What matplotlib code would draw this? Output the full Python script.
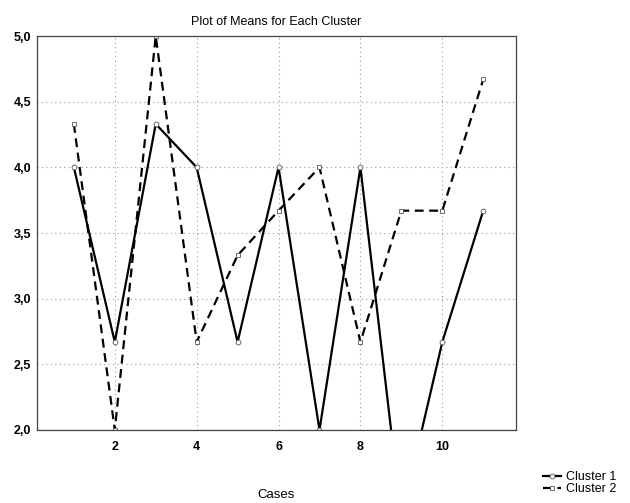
import numpy as np
import matplotlib
matplotlib.use("Agg")
import matplotlib.pyplot as plt
from matplotlib.ticker import FuncFormatter

plt.rcParams['font.family'] = ['Liberation Sans', 'DejaVu Sans']

# Means per case
cases = [1, 2, 3, 4, 5, 6, 7, 8, 9, 10, 11]
cluster1 = [4.0, 2.67, 4.33, 4.0, 2.67, 4.0, 2.0, 4.0, 1.33, 2.67, 3.67]
cluster2 = [4.33, 2.0, 5.0, 2.67, 3.33, 3.67, 4.0, 2.67, 3.67, 3.67, 4.67]

x_ticks = [2, 4, 6, 8, 10]
y_ticks = [2.0, 2.5, 3.0, 3.5, 4.0, 4.5, 5.0]

fig = plt.figure(figsize=(6.30, 5.03), dpi=100)
ax = fig.add_axes([37 / 630, 1 - 430 / 503, (516 - 37) / 630, (430 - 36) / 503])

ax.plot(cases, cluster1, color='black', lw=1.6, ls='-',
        marker='o', ms=3.5, mfc='white', mec='#555555', mew=0.6, label='Cluster 1')
ax.plot(cases, cluster2, color='black', lw=1.6, ls=(0, (4, 2.5)),
        marker='s', ms=3.2, mfc='white', mec='#555555', mew=0.6, label='Cluster 2')

ax.set_xlim(0.1, 11.8)
ax.set_ylim(2.0, 5.0)
ax.set_xticks(x_ticks)
ax.set_yticks(y_ticks)
ax.yaxis.set_major_formatter(FuncFormatter(lambda v, p: f"{v:.1f}".replace('.', ',')))
ax.tick_params(axis='y', length=0, labelsize=9, pad=4)
ax.tick_params(axis='x', length=0, labelsize=9, pad=8)
for lab in ax.get_xticklabels() + ax.get_yticklabels():
    lab.set_fontweight('bold')

ax.grid(True, color='#999999', ls=(0, (1, 3)), lw=0.8)
for s in ax.spines.values():
    s.set_color('#444444')
    s.set_linewidth(0.9)

ax.set_title('Plot of Means for Each Cluster', fontsize=9, pad=8)
ax.set_xlabel('Cases', fontsize=9.5, labelpad=26)

fig.legend(loc='lower right', bbox_to_anchor=(0.99, 0.0), frameon=False,
           fontsize=9, handlelength=1.4, handletextpad=0.4, labelspacing=0.0,
           borderpad=0.1)

fig.savefig('out.png', dpi=100)
